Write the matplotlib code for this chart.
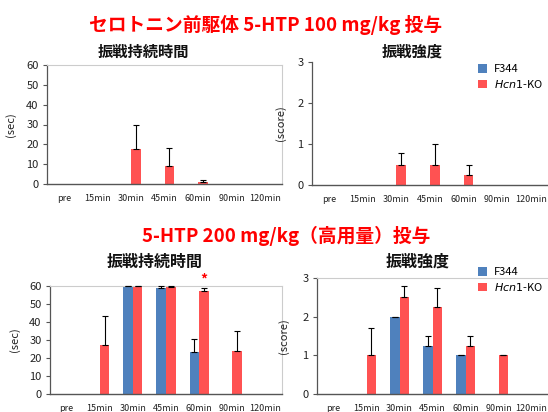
import matplotlib
matplotlib.use("Agg")
import matplotlib.pyplot as plt
import numpy as np

plt.rcParams['font.family'] = ['Noto Sans CJK JP', 'DejaVu Sans']

categories = ["pre", "15min", "30min", "45min", "60min", "90min", "120min"]
series_names = ["F344", "Hcn1-KO"]

# 5-HTP 100 mg/kg : duration (sec)
dur100_f344 = [0, 0, 0, 0, 0, 0, 0]
dur100_f344_err = [0, 0, 0, 0, 0, 0, 0]
dur100_ko = [0, 0, 17.8, 9.1, 1.0, 0, 0]
dur100_ko_err = [0, 0, 11.8, 9.2, 1.0, 0, 0]

# 5-HTP 100 mg/kg : intensity (score)
int100_f344 = [0, 0, 0, 0, 0, 0, 0]
int100_f344_err = [0, 0, 0, 0, 0, 0, 0]
int100_ko = [0, 0, 0.5, 0.5, 0.25, 0, 0]
int100_ko_err = [0, 0, 0.29, 0.5, 0.25, 0, 0]

# 5-HTP 200 mg/kg : duration (sec)
dur200_f344 = [0, 0, 60, 58.7, 23.3, 0, 0]
dur200_f344_err = [0, 0, 0, 1.3, 7.0, 0, 0]
dur200_ko = [0, 27.2, 60, 59.3, 57.1, 23.9, 0]
dur200_ko_err = [0, 16.1, 0, 0.7, 2.0, 10.9, 0]

# 5-HTP 200 mg/kg : intensity (score)
int200_f344 = [0, 0, 2.0, 1.25, 1.0, 0, 0]
int200_f344_err = [0, 0, 0, 0.25, 0, 0, 0]
int200_ko = [0, 1.0, 2.5, 2.25, 1.25, 1.0, 0]
int200_ko_err = [0, 0.71, 0.29, 0.49, 0.25, 0, 0]

BLUE = "#4F81BD"
RED = "#FF5252"
W, H = 548, 412

fig = plt.figure(figsize=(W / 100, H / 100), dpi=100)


def ax_rect(x0, y_top, x1, y_bot):
    return [x0 / W, 1 - y_bot / H, (x1 - x0) / W, (y_bot - y_top) / H]


def draw_panel(rect, f344, f344_err, ko, ko_err, ymax, yticks, ylabel, frame, ylab_x):
    ax = fig.add_axes(rect)
    x = np.arange(len(categories))
    bw = 0.29
    ekw = dict(ecolor="black", elinewidth=0.8, capsize=2, capthick=0.8)
    for vals, errs, off, col, lab in ((f344, f344_err, -bw / 2, BLUE, series_names[0]),
                                      (ko, ko_err, bw / 2, RED, series_names[1])):
        vals = np.asarray(vals, float)
        errs = np.asarray(errs, float)
        ax.bar(x + off, vals, bw, color=col, label=lab, zorder=2)
        m = vals > 0
        ax.errorbar(x[m] + off, vals[m], yerr=[np.zeros(m.sum()), errs[m]], fmt="none",
                    zorder=3, clip_on=False, **ekw)
    ax.set_xlim(-0.5, len(categories) - 0.5)
    ax.set_ylim(0, ymax)
    ax.set_yticks(yticks)
    ax.set_xticks(x)
    ax.set_xticklabels(categories, fontsize=6.5, color="#222222")
    ax.tick_params(axis="x", length=0, pad=7)
    ax.tick_params(axis="y", labelsize=8, length=3, width=0.8, color="#555555", pad=3,
                   labelcolor="#222222")
    ax.spines["left"].set_color("#555555")
    ax.spines["bottom"].set_color("#555555")
    ax.spines["left"].set_linewidth(0.9)
    ax.spines["bottom"].set_linewidth(1.0)
    if frame == "full":
        ax.spines["top"].set_color("#CCCCCC")
        ax.spines["right"].set_color("#CCCCCC")
        ax.spines["top"].set_linewidth(0.8)
        ax.spines["right"].set_linewidth(0.8)
    elif frame == "top":
        ax.spines["top"].set_color("#CCCCCC")
        ax.spines["top"].set_linewidth(0.8)
        ax.spines["right"].set_visible(False)
    else:
        ax.spines["top"].set_visible(False)
        ax.spines["right"].set_visible(False)
    ax.set_ylabel(ylabel, fontsize=8, color="#222222")
    ax.yaxis.set_label_coords(ylab_x, 0.5)
    return ax


ax1 = draw_panel(ax_rect(47, 65, 282, 184), dur100_f344, dur100_f344_err, dur100_ko,
                 dur100_ko_err, 60, [0, 10, 20, 30, 40, 50, 60], "(sec)", "full", -0.13)
ax2 = draw_panel(ax_rect(312, 62, 548, 185), int100_f344, int100_f344_err, int100_ko,
                 int100_ko_err, 3, [0, 1, 2, 3], "(score)", "none", -0.11)
ax3 = draw_panel(ax_rect(50, 286, 282, 394), dur200_f344, dur200_f344_err, dur200_ko,
                 dur200_ko_err, 60, [0, 10, 20, 30, 40, 50, 60], "(sec)", "full", -0.13)
ax4 = draw_panel(ax_rect(317, 278, 548, 394), int200_f344, int200_f344_err, int200_ko,
                 int200_ko_err, 3, [0, 1, 2, 3], "(score)", "top", -0.12)

# significance star
ax3.text(4 + 0.29 / 2, 63.5, "*", color="red", fontsize=10, fontweight="bold",
         ha="center", va="center", clip_on=False)

# legends
for ax, ytop in ((ax2, 64), (ax4, 267)):
    handles, labels = ax.get_legend_handles_labels()
    fig.legend(handles, ["F344", "$\\mathit{Hcn1}$-KO"], loc="upper left",
               bbox_to_anchor=(478 / W, 1 - ytop / H), frameon=False,
               fontsize=8, handlelength=0.8, handleheight=0.8,
               handletextpad=0.6, labelspacing=0.35, borderpad=0, borderaxespad=0)

# titles
fig.text(266 / W, 1 - 25 / H, "セロトニン前駆体 5-HTP 100 mg/kg 投与", color="#FF0000",
         fontsize=13.5, fontweight="bold", ha="center", va="center")
fig.text(286 / W, 1 - 236 / H, "5-HTP 200 mg/kg（高用量）投与", color="#FF0000",
         fontsize=13.5, fontweight="bold", ha="center", va="center")
fig.text(143 / W, 1 - 52 / H, "振戦持続時間", fontsize=11, fontweight="bold",
         ha="center", va="center", color="#111111")
fig.text(412 / W, 1 - 52 / H, "振戦強度", fontsize=11, fontweight="bold",
         ha="center", va="center", color="#111111")
fig.text(155 / W, 1 - 262 / H, "振戦持続時間", fontsize=11.5, fontweight="bold",
         ha="center", va="center", color="#111111")
fig.text(418 / W, 1 - 262 / H, "振戦強度", fontsize=11.5, fontweight="bold",
         ha="center", va="center", color="#111111")

fig.savefig("out.png", dpi=100)
